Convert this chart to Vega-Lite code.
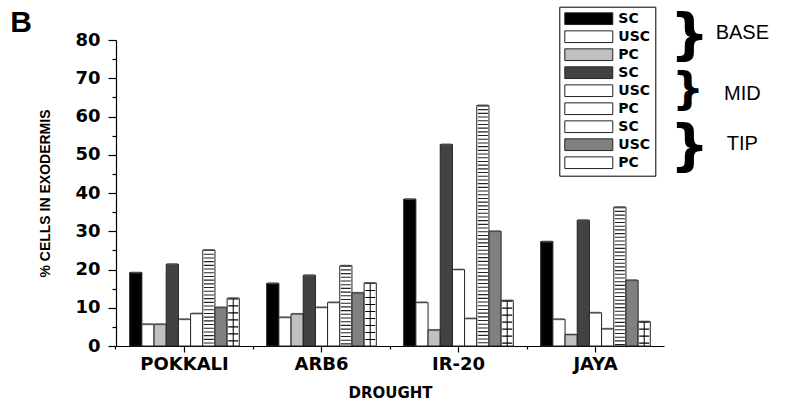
{
  "$schema": "https://vega.github.io/schema/vega-lite/v6.json",
  "width": 548,
  "height": 306,
  "autosize": "none",
  "padding": {"left": 116, "top": 40, "right": 121, "bottom": 55},
  "background": "white",
  "config": {"view": {"stroke": null}, "axis": {"grid": false, "domainColor": "black", "tickColor": "black"}},
  "datasets": {
    "bars": [
      {"variety": "POKKALI", "series": "BASE SC", "value": 19.2},
      {"variety": "POKKALI", "series": "BASE USC", "value": 5.7},
      {"variety": "POKKALI", "series": "BASE PC", "value": 5.7},
      {"variety": "POKKALI", "series": "MID SC", "value": 21.4},
      {"variety": "POKKALI", "series": "MID USC", "value": 7.0},
      {"variety": "POKKALI", "series": "MID PC", "value": 8.5},
      {"variety": "POKKALI", "series": "TIP SC", "value": 25.1},
      {"variety": "POKKALI", "series": "TIP USC", "value": 10.1},
      {"variety": "POKKALI", "series": "TIP PC", "value": 12.5},
      {"variety": "ARB6", "series": "BASE SC", "value": 16.4},
      {"variety": "ARB6", "series": "BASE USC", "value": 7.5},
      {"variety": "ARB6", "series": "BASE PC", "value": 8.4},
      {"variety": "ARB6", "series": "MID SC", "value": 18.5},
      {"variety": "ARB6", "series": "MID USC", "value": 10.1},
      {"variety": "ARB6", "series": "MID PC", "value": 11.4},
      {"variety": "ARB6", "series": "TIP SC", "value": 21.0},
      {"variety": "ARB6", "series": "TIP USC", "value": 13.9},
      {"variety": "ARB6", "series": "TIP PC", "value": 16.5},
      {"variety": "IR-20", "series": "BASE SC", "value": 38.4},
      {"variety": "IR-20", "series": "BASE USC", "value": 11.4},
      {"variety": "IR-20", "series": "BASE PC", "value": 4.2},
      {"variety": "IR-20", "series": "MID SC", "value": 52.7},
      {"variety": "IR-20", "series": "MID USC", "value": 20.0},
      {"variety": "IR-20", "series": "MID PC", "value": 7.2},
      {"variety": "IR-20", "series": "TIP SC", "value": 62.9},
      {"variety": "IR-20", "series": "TIP USC", "value": 30.0},
      {"variety": "IR-20", "series": "TIP PC", "value": 11.9},
      {"variety": "JAYA", "series": "BASE SC", "value": 27.3},
      {"variety": "JAYA", "series": "BASE USC", "value": 7.0},
      {"variety": "JAYA", "series": "BASE PC", "value": 3.0},
      {"variety": "JAYA", "series": "MID SC", "value": 32.9},
      {"variety": "JAYA", "series": "MID USC", "value": 8.7},
      {"variety": "JAYA", "series": "MID PC", "value": 4.5},
      {"variety": "JAYA", "series": "TIP SC", "value": 36.3},
      {"variety": "JAYA", "series": "TIP USC", "value": 17.2},
      {"variety": "JAYA", "series": "TIP PC", "value": 6.4}
    ],
    "groups": [
      {"group": "BASE", "yb": 81.0, "yl": 81.9},
      {"group": "MID", "yb": 67.0, "yl": 65.8},
      {"group": "TIP", "yb": 51.9, "yl": 52.9}
    ],
    "panel": [{"label": "B"}]
  },
  "resolve": {"scale": {"x": "independent"}},
  "layer": [
    {
      "data": {"name": "bars"},
      "resolve": {"axis": {"x": "independent", "y": "independent"}},
      "layer": [
        {
          "mark": {"type": "bar", "stroke": "#222", "strokeWidth": 1},
          "encoding": {
            "x": {
              "field": "variety", "type": "nominal",
              "scale": {"domain": ["POKKALI", "ARB6", "IR-20", "JAYA"], "paddingInner": 0.2, "paddingOuter": 0.1},
              "axis": {
                "orient": "bottom", "title": "DROUGHT", "labelAngle": 0,
                "labelFont": "DejaVu Sans", "labelFontWeight": "bold", "labelFontSize": 18, "labelColor": "black",
                "tickSize": 6, "labelPadding": 3, "domainWidth": 1.2, "tickWidth": 1.2,
                "titleFont": "DejaVu Sans", "titleFontWeight": "bold", "titleFontSize": 15, "titleColor": "black", "titlePadding": 12
              }
            },
            "xOffset": {
              "field": "series", "type": "nominal",
              "scale": {"domain": ["BASE SC", "BASE USC", "BASE PC", "MID SC", "MID USC", "MID PC", "TIP SC", "TIP USC", "TIP PC"], "paddingInner": 0, "paddingOuter": 0}
            },
            "y": {
              "field": "value", "type": "quantitative",
              "scale": {"domain": [0, 80], "nice": false},
              "axis": {
                "orient": "left", "title": "% CELLS IN EXODERMIS",
                "values": [0, 10, 20, 30, 40, 50, 60, 70, 80],
                "tickSize": 8, "labelPadding": 8, "domainWidth": 1.2, "tickWidth": 1.2,
                "labelFont": "DejaVu Sans", "labelFontWeight": "bold", "labelFontSize": 18, "labelColor": "black",
                "titleFont": "Liberation Sans", "titleFontWeight": "bold", "titleFontSize": 14, "titleColor": "black", "titlePadding": 22
              }
            },
            "fill": {
              "field": "series", "type": "nominal",
              "scale": {
                "domain": ["BASE SC", "BASE USC", "BASE PC", "MID SC", "MID USC", "MID PC", "TIP SC", "TIP USC", "TIP PC"],
                "range": ["#000000", "#ffffff", "#c0c0c0", "#424242", "#ffffff", "#ffffff", "#ffffff", "#808080", "#ffffff"]
              },
              "legend": {
                "orient": "none", "legendX": 443.3, "legendY": -33.3, "title": null,
                "strokeColor": "black", "padding": 5, "fillColor": "white",
                "symbolType": "M-1,-0.9H6.38V0.9H-1Z", "symbolSize": 169,
                "symbolStrokeColor": "#222", "symbolStrokeWidth": 1, "symbolOpacity": 1,
                "labelExpr": "split(datum.label, ' ')[1]",
                "labelFont": "DejaVu Sans", "labelFontWeight": "bold", "labelFontSize": 14, "labelColor": "black",
                "labelOffset": 40, "rowPadding": 2
              }
            }
          }
        },
        {
          "transform": [{"filter": "datum.series === 'TIP PC'"}],
          "mark": {"type": "rule", "strokeWidth": 10, "strokeDash": [1.2, 5.8], "color": "black"},
          "encoding": {
            "x": {
              "field": "variety", "type": "nominal",
              "axis": {"orient": "bottom", "bandPosition": -0.125, "tickSize": 3, "labels": false, "domain": false, "title": null, "tickWidth": 1.2}
            },
            "xOffset": {"field": "series", "type": "nominal"},
            "y": {
              "field": "value", "type": "quantitative",
              "axis": {"orient": "left", "values": [5, 15, 25, 35, 45, 55, 65, 75], "tickSize": 4, "labels": false, "domain": false, "title": null, "tickWidth": 1.2}
            },
            "y2": {"datum": 0}
          }
        },
        {
          "transform": [{"filter": "datum.series === 'TIP PC'"}],
          "mark": {"type": "rule", "strokeWidth": 1, "color": "black"},
          "encoding": {
            "x": {"field": "variety", "type": "nominal", "axis": null},
            "xOffset": {"field": "series", "type": "nominal"},
            "y": {"field": "value", "type": "quantitative", "axis": null},
            "y2": {"datum": 0}
          }
        },
        {
          "transform": [{"filter": "datum.series === 'TIP SC'"}],
          "mark": {"type": "rule", "strokeWidth": 10, "strokeDash": [1.1, 2.6], "color": "#222"},
          "encoding": {
            "x": {"field": "variety", "type": "nominal", "axis": null},
            "xOffset": {"field": "series", "type": "nominal"},
            "y": {"field": "value", "type": "quantitative", "axis": null},
            "y2": {"datum": 0}
          }
        },
        {
          "mark": {"type": "tick", "orient": "horizontal", "thickness": 2, "size": 10, "color": "#555"},
          "encoding": {
            "x": {"field": "variety", "type": "nominal", "axis": null},
            "xOffset": {"field": "series", "type": "nominal"},
            "y": {"field": "value", "type": "quantitative", "axis": null}
          }
        }
      ]
    },
    {
      "layer": [
        {
          "data": {"name": "panel"},
          "mark": {"type": "text", "font": "Liberation Sans", "fontWeight": "bold", "fontSize": 30, "align": "left", "baseline": "middle", "color": "black"},
          "encoding": {
            "text": {"field": "label"},
            "x": {"datum": -19.3, "type": "quantitative", "scale": {"domain": [0, 100], "nice": false, "zero": false}, "axis": null},
            "y": {"datum": 84.4, "type": "quantitative", "scale": {"domain": [0, 80], "nice": false}, "axis": null}
          }
        },
        {
          "data": {"name": "groups"},
          "transform": [{"filter": "datum.group !== 'MID'"}],
          "mark": {"type": "text", "text": "}", "font": "DejaVu Sans", "fontWeight": "bold", "fontSize": 55, "align": "center", "baseline": "middle", "color": "black"},
          "encoding": {
            "x": {"datum": 104.65, "type": "quantitative", "axis": null},
            "y": {"field": "yb", "type": "quantitative", "axis": null}
          }
        },
        {
          "data": {"name": "groups"},
          "transform": [{"filter": "datum.group === 'MID'"}],
          "mark": {"type": "text", "text": "}", "font": "DejaVu Sans", "fontWeight": "bold", "fontSize": 45, "align": "center", "baseline": "middle", "color": "black"},
          "encoding": {
            "x": {"datum": 104.4, "type": "quantitative", "axis": null},
            "y": {"field": "yb", "type": "quantitative", "axis": null}
          }
        },
        {
          "data": {"name": "groups"},
          "mark": {"type": "text", "font": "Liberation Sans", "fontSize": 20, "align": "center", "baseline": "middle", "color": "black"},
          "encoding": {
            "text": {"field": "group"},
            "x": {"datum": 114.3, "type": "quantitative", "axis": null},
            "y": {"field": "yl", "type": "quantitative", "axis": null}
          }
        }
      ]
    }
  ]
}
